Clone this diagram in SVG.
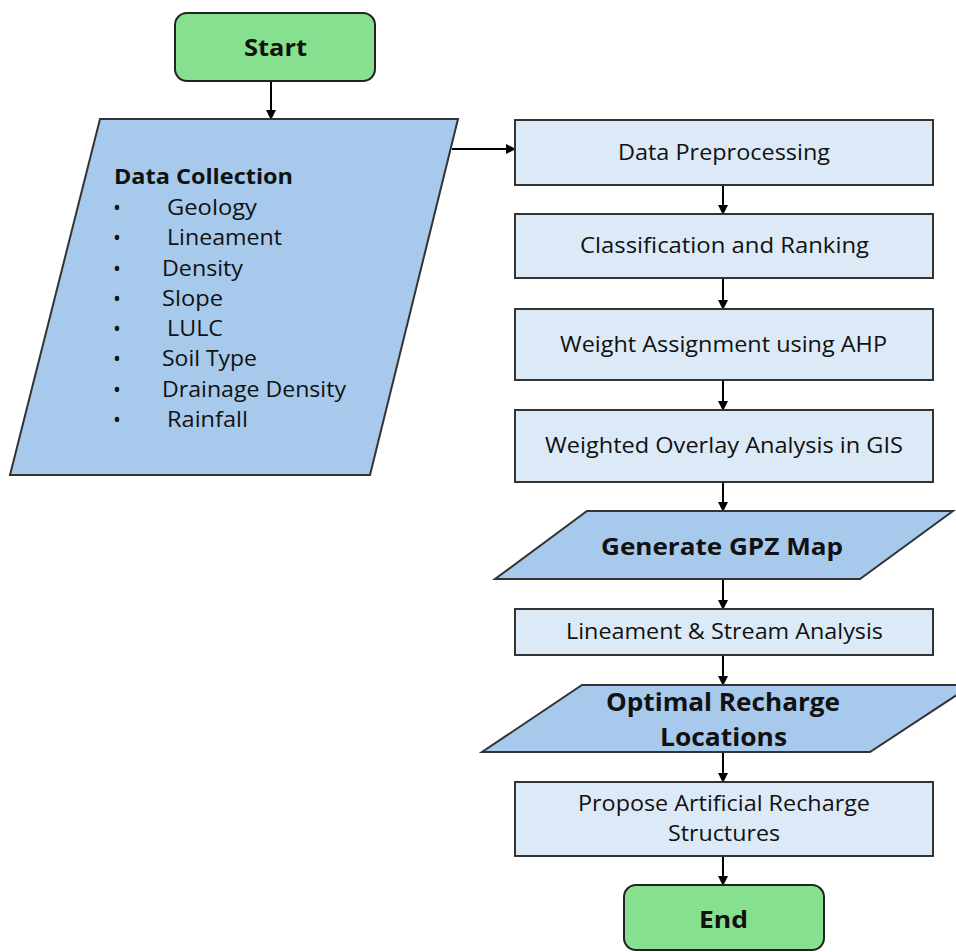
<svg xmlns="http://www.w3.org/2000/svg" width="956" height="952" viewBox="0 0 956 952">
<defs>
<marker id="ah" markerWidth="10" markerHeight="10" refX="9" refY="5" orient="auto" markerUnits="userSpaceOnUse">
<path d="M0,0 L10,5 L0,10 z" fill="#000"/>
</marker>
<style>
.term{fill:#86E08F;stroke:#222;stroke-width:2}
.proc{fill:#DCE9F7;stroke:#333;stroke-width:2}
.io{fill:#A7C9EB;stroke:#333;stroke-width:2}
.t{font-family:"Open Sans","Liberation Sans",sans-serif;font-size:21px;fill:#111}
.b{font-family:"Open Sans","Liberation Sans",sans-serif;font-weight:bold;fill:#111}
.c{text-anchor:middle}
.conn{stroke:#000;stroke-width:2;fill:none;marker-end:url(#ah)}
</style>
</defs>
<rect width="956" height="952" fill="#fff"/>
<g id="connectors">
<line class="conn" x1="271" y1="81" x2="271" y2="119"/>
<line class="conn" x1="452" y1="149" x2="515" y2="149"/>
<line class="conn" x1="723" y1="185" x2="723" y2="214"/>
<line class="conn" x1="723" y1="278" x2="723" y2="309"/>
<line class="conn" x1="723" y1="380" x2="723" y2="410"/>
<line class="conn" x1="723" y1="482" x2="723" y2="511"/>
<line class="conn" x1="723" y1="579" x2="723" y2="609"/>
<line class="conn" x1="723" y1="655" x2="723" y2="685"/>
<line class="conn" x1="723" y1="752" x2="723" y2="782"/>
<line class="conn" x1="723" y1="856" x2="723" y2="885"/>
</g>
<g id="start">
<rect class="term" x="175" y="13" width="200" height="68" rx="12"/>
<text class="b c" x="275.5" y="56" font-size="24" textLength="63" lengthAdjust="spacingAndGlyphs">Start</text>
</g>
<g id="data-collection">
<polygon class="io" points="100,119 458,119 370,475 10,475"/>
<text class="b" x="114" y="184" font-size="21" textLength="179" lengthAdjust="spacingAndGlyphs">Data Collection</text>
<g class="t">
<text x="113" y="215">•</text><text x="167" y="215" textLength="90" lengthAdjust="spacingAndGlyphs">Geology</text>
<text x="113" y="245">•</text><text x="167" y="245" textLength="115" lengthAdjust="spacingAndGlyphs">Lineament</text>
<text x="113" y="276">•</text><text x="162" y="276" textLength="81" lengthAdjust="spacingAndGlyphs">Density</text>
<text x="113" y="306">•</text><text x="162" y="306" textLength="61" lengthAdjust="spacingAndGlyphs">Slope</text>
<text x="113" y="336">•</text><text x="167" y="336" textLength="56" lengthAdjust="spacingAndGlyphs">LULC</text>
<text x="113" y="366">•</text><text x="162" y="366" textLength="95" lengthAdjust="spacingAndGlyphs">Soil Type</text>
<text x="113" y="397">•</text><text x="162" y="397" textLength="184" lengthAdjust="spacingAndGlyphs">Drainage Density</text>
<text x="113" y="427">•</text><text x="167" y="427" textLength="81" lengthAdjust="spacingAndGlyphs">Rainfall</text>
</g>
</g>
<g id="preprocessing">
<rect class="proc" x="515" y="120" width="418" height="65"/>
<text class="t c" x="724" y="160" textLength="212" lengthAdjust="spacingAndGlyphs">Data Preprocessing</text>
</g>
<g id="classification">
<rect class="proc" x="515" y="214" width="418" height="64"/>
<text class="t c" x="724.5" y="253" textLength="289" lengthAdjust="spacingAndGlyphs">Classification and Ranking</text>
</g>
<g id="weight">
<rect class="proc" x="515" y="309" width="418" height="71"/>
<text class="t c" x="723.5" y="352" textLength="327" lengthAdjust="spacingAndGlyphs">Weight Assignment using AHP</text>
</g>
<g id="overlay">
<rect class="proc" x="515" y="410" width="418" height="72"/>
<text class="t c" x="724" y="453" textLength="358" lengthAdjust="spacingAndGlyphs">Weighted Overlay Analysis in GIS</text>
</g>
<g id="gpz">
<polygon class="io" points="587,511 953,511 860,579 495,579"/>
<text class="b c" x="722" y="555" font-size="24" textLength="242" lengthAdjust="spacingAndGlyphs">Generate GPZ Map</text>
</g>
<g id="lineament">
<rect class="proc" x="515" y="609" width="418" height="46"/>
<text class="t c" x="724.5" y="639" textLength="317" lengthAdjust="spacingAndGlyphs">Lineament &amp; Stream Analysis</text>
</g>
<g id="optimal">
<polygon class="io" points="582,685 972,685 870,752 482,752"/>
<text class="b c" x="723" y="711" font-size="25" textLength="234" lengthAdjust="spacingAndGlyphs">Optimal Recharge</text>
<text class="b c" x="723.5" y="746" font-size="25" textLength="127" lengthAdjust="spacingAndGlyphs">Locations</text>
</g>
<g id="propose">
<rect class="proc" x="515" y="782" width="418" height="74"/>
<text class="t c" x="724" y="811" textLength="292" lengthAdjust="spacingAndGlyphs">Propose Artificial Recharge</text>
<text class="t c" x="724" y="841" textLength="112" lengthAdjust="spacingAndGlyphs">Structures</text>
</g>
<g id="end">
<rect class="term" x="624" y="885" width="200" height="65" rx="12"/>
<text class="b c" x="723.5" y="928" font-size="24" textLength="49" lengthAdjust="spacingAndGlyphs">End</text>
</g>
</svg>
